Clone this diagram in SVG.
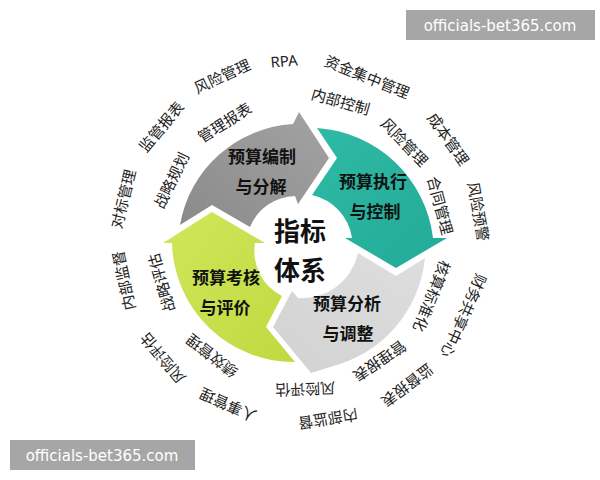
<svg xmlns="http://www.w3.org/2000/svg" width="600" height="480" viewBox="0 0 600 480">
<defs>
<style>
.lbl{font-family:"Noto Sans CJK SC","Noto Sans",sans-serif;font-size:17px;font-weight:bold;fill:#111;text-anchor:middle}
.ctr{font-family:"Noto Sans CJK SC","Noto Sans",sans-serif;font-size:26px;font-weight:bold;fill:#111;text-anchor:middle}
.ring{font-family:"Noto Sans CJK SC","Noto Sans",sans-serif;font-size:15px;fill:#222;text-anchor:middle;dominant-baseline:central}
.wm{font-family:"DejaVu Sans",sans-serif;font-size:15px;fill:#fff}
</style>
<linearGradient id="gGray" x1="0" y1="1" x2="1" y2="0"><stop offset="0" stop-color="#8a8a8a"/><stop offset="1" stop-color="#a3a3a3"/></linearGradient>
<linearGradient id="gTeal" x1="0" y1="0" x2="1" y2="1"><stop offset="0" stop-color="#2fbaa5"/><stop offset="1" stop-color="#22ab98"/></linearGradient>
<linearGradient id="gLight" x1="1" y1="0" x2="0" y2="1"><stop offset="0" stop-color="#dedede"/><stop offset="1" stop-color="#d2d2d2"/></linearGradient>
<linearGradient id="gLime" x1="0" y1="0" x2="1" y2="1"><stop offset="0" stop-color="#d0e65a"/><stop offset="1" stop-color="#c0da40"/></linearGradient>
</defs>
<rect width="600" height="480" fill="#fff"/>

<g id="node-bianzhi">
<path d="M 180,225 A 122 122 0 0 1 293,124 L 299,112 L 329,158 L 298,204 L 295,196 A 50 50 0 0 0 250,227 L 212,205 Z" fill="url(#gGray)"/>
<text class="lbl" x="262" y="163">预算编制</text>
<text class="lbl" x="261" y="193">与分解</text>
</g>
<g id="node-zhixing">
<path d="M 317,128 A 125 125 0 0 1 433,238 L 447,238 L 396,268 L 345,238 L 352,238 A 52 52 0 0 0 312,195 L 337,158 Z" fill="url(#gTeal)"/>
<text class="lbl" x="373" y="188">预算执行</text>
<text class="lbl" x="375" y="218">与控制</text>
</g>
<g id="node-fenxi">
<path d="M 425,258 A 125 125 0 0 1 330,367 L 311,373 L 273,327 L 292,291 L 298,298 A 57 57 0 0 0 358,253 L 396,276 Z" fill="url(#gLight)"/>
<text class="lbl" x="347" y="310">预算分析</text>
<text class="lbl" x="348" y="340">与调整</text>
</g>
<g id="node-kaohe">
<path d="M 295,362 A 122 122 0 0 1 172,243 L 163,243 L 212,212 L 265,243 L 255,243 A 50 50 0 0 0 282,296 L 266,327 Z" fill="url(#gLime)"/>
<text class="lbl" x="226" y="284">预算考核</text>
<text class="lbl" x="225" y="314">与评价</text>
</g>
<g id="node-center">
<text class="ctr" x="300" y="241">指标</text>
<text class="ctr" x="300" y="280">体系</text>
</g>
<g id="connectors"></g>

<g id="ring-inner">
<text class="ring" x="300" y="100" transform="rotate(-32 300 243)">管理报表</text>
<text class="ring" x="300" y="99" transform="rotate(-64 300 243)">战略规划</text>
<text class="ring" x="300" y="95" transform="rotate(16 300 243)">内部控制</text>
<text class="ring" x="300" y="97" transform="rotate(46 300 243)">风险管理</text>
<text class="ring" x="300" y="97" transform="rotate(75 300 243)">合同管理</text>
<text class="ring" x="300" y="100" transform="rotate(112 300 243)">核算标准化</text>
<text class="ring" x="300" y="100" transform="rotate(146 300 243)">管理报表</text>
<text class="ring" x="300" y="96" transform="rotate(178 300 243)">风险评估</text>
<text class="ring" x="300" y="99" transform="rotate(218 300 243)">绩效管理</text>
<text class="ring" x="300" y="98" transform="rotate(-106 300 243)">战略评估</text>
</g>
<g id="ring-outer">
<text class="ring" x="300" y="60" transform="rotate(-5 300 243)" style="font-family:'Noto Sans','Liberation Sans',sans-serif">RPA</text>
<text class="ring" x="300" y="58" transform="rotate(-25 300 243)">风险管理</text>
<text class="ring" x="300" y="61" transform="rotate(-50 300 243)">监管报表</text>
<text class="ring" x="300" y="60" transform="rotate(-76 300 243)">对标管理</text>
<text class="ring" x="300" y="62" transform="rotate(-102 300 243)">内部监督</text>
<text class="ring" x="300" y="63" transform="rotate(-130 300 243)">风险评估</text>
<text class="ring" x="300" y="65" transform="rotate(-156 300 243)">人事管理</text>
<text class="ring" x="300" y="64" transform="rotate(171 300 243)">内部监督</text>
<text class="ring" x="300" y="64" transform="rotate(143 300 243)">监督报表</text>
<text class="ring" x="300" y="63" transform="rotate(114 300 243)">财务共享中心</text>
<text class="ring" x="300" y="61" transform="rotate(80 300 243)">风险预警</text>
<text class="ring" x="300" y="61" transform="rotate(55 300 243)">成本管理</text>
<text class="ring" x="300" y="63" transform="rotate(22 300 243)">资金集中管理</text>
</g>

<g id="watermarks">
<rect x="406" y="10" width="189" height="30" fill="#a6a6a6"/>
<text class="wm" x="500" y="31" text-anchor="middle">officials-bet365.com</text>
<rect x="10" y="440" width="185" height="30" fill="#a6a6a6"/>
<text class="wm" x="102" y="461" text-anchor="middle">officials-bet365.com</text>
</g>
</svg>
